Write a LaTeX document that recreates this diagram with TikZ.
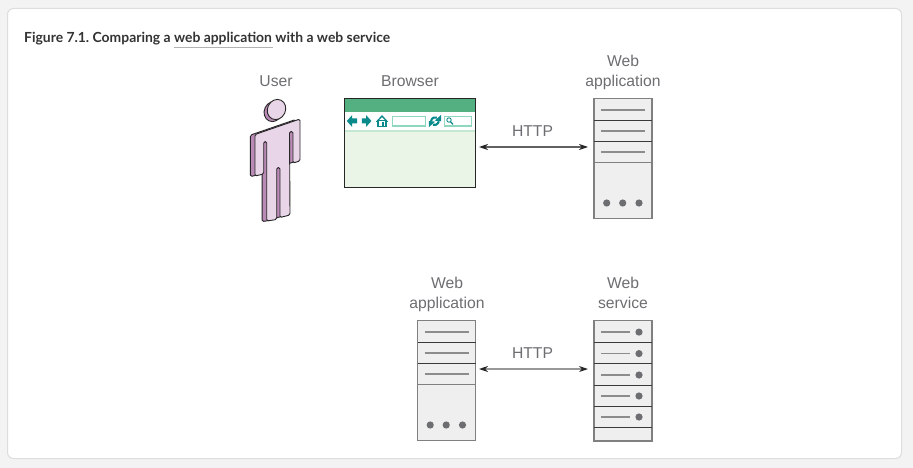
\documentclass[tikz,border=0pt]{standalone}
\usepackage{fontspec}
\setmainfont{Liberation Sans}
\newfontfamily\latofont{Lato}
\usetikzlibrary{arrows.meta}
\definecolor{pagebg}{HTML}{F3F3F3}
\definecolor{cardedge}{HTML}{DDDDDD}
\definecolor{labelgray}{HTML}{6D6E71}
\definecolor{srvfill}{HTML}{EFEFEF}
\definecolor{srvedge}{HTML}{808080}
\definecolor{srvdark}{HTML}{3A3A3A}
\definecolor{srvline}{HTML}{8C8C8C}
\definecolor{srvdot}{HTML}{6D6E71}
\definecolor{headgreen}{HTML}{54B080}
\definecolor{bodygreen}{HTML}{EAF4E7}
\definecolor{stripgreen}{HTML}{C5E8D3}
\definecolor{teal}{HTML}{0A8A8A}
\definecolor{fieldedge}{HTML}{8FD8BE}
\definecolor{personlight}{HTML}{E9D5E8}
\definecolor{persondark}{HTML}{B98AB5}
\tikzset{
  x=1pt,y=-1pt,
  lbl/.style={font=\fontsize{15.7}{20}\selectfont,text=labelgray,inner sep=0pt,align=center},
  srvbox/.style={draw=srvedge,fill=srvfill,line width=1.4pt,minimum width=58pt,inner sep=0pt,outer sep=0pt,anchor=north west},
  sep/.style={draw=srvdark,line width=1pt},
  sepgray/.style={draw=srvedge,line width=1.4pt},
  rackline/.style={draw=srvline,line width=1.5pt},
  rackdot/.style={fill=srvdot,draw=none},
  link/.style={draw=srvdark!80,line width=1.1pt,{Stealth[length=9pt,width=6pt,color=black!85]}-{Stealth[length=9pt,width=6pt,color=black!85]}},
  tealfill/.style={fill=teal,draw=none},
  fieldbox/.style={draw=fieldedge,fill=white,line width=1.2pt},
  personshape/.style={draw=black!85,line width=.9pt,rounded corners=1.5pt,line join=round}
}
% web application rack at top-left (#2,#3), node name #1
\newcommand{\appsrv}[3]{%
  \node[srvbox,minimum height=120pt] (#1) at (#2,#3) {};
  \begin{scope}[shift={(#2,#3)}]
    \draw[sep] (0,21.8) -- (58,21.8);
    \draw[sep] (0,43.2) -- (58,43.2);
    \draw[sepgray] (0,64.2) -- (58,64.2);
    \foreach \yy in {11.5,32.5,53.5} \draw[rackline] (7,\yy) -- (51,\yy);
    \foreach \xx in {12.7,28.7,45} \fill[rackdot] (\xx,104.5) circle (3.6pt);
  \end{scope}}
\begin{document}
\begin{tikzpicture}
\useasboundingbox (0,0) rectangle (913,468);
\fill[pagebg] (0,0) rectangle (913,468);
\draw[draw=cardedge,fill=white,line width=1pt,rounded corners=6pt] (7.5,8.5) rectangle (901.5,458.5);
% title
\node[anchor=base west,inner sep=0pt,font=\latofont\bfseries\fontsize{13.9}{16}\selectfont,text=black!80] (title) at (24,42.7) {\frenchspacing Figure 7.1. Comparing a web application with a web service};
\coordinate (ulA) at (174,47.5);
\coordinate (ulB) at (273,47.5);
\draw[draw=black!30,line width=1.2pt] (ulA) -- (ulB);
% labels
\node[lbl] (userlbl) at (276,81) {User};
\node[lbl] (browserlbl) at (410,81) {Browser};
\node[lbl] (app1lbl) at (623,72) {Web\\application};
\node[lbl] (http1) at (532.5,131) {HTTP};
\node[lbl] (app2lbl) at (447,294) {Web\\application};
\node[lbl] (svclbl) at (623,293.3) {Web\\service};
\node[lbl] (http2) at (532.5,353) {HTTP};
% person
\def\bodypath{(255,134.5) -- (300,119) -- (300,161) -- (293,163) -- (293,131.5) -- (289.5,131.5) -- (290,215) -- (280,217.5) -- (280,167.5) -- (276.7,167.5) -- (276.7,219.5) -- (266.7,221) -- (266.7,141.5) -- (263.7,141.5) -- (263.7,174) -- (255,176) -- cycle}
\begin{scope}[shift={(-4.6,0.6)}]
  \draw[personshape,fill=persondark] \bodypath;
\end{scope}
\draw[personshape,fill=personlight] \bodypath;
\draw[draw=black!85,line width=.9pt,fill=persondark,rotate around={-25:(273.3,111.5)}] (273.3,111.5) ellipse [x radius=9,y radius=10.3];
\draw[draw=black!85,line width=.9pt,fill=personlight,rotate around={-25:(276.5,109.5)}] (276.5,109.5) ellipse [x radius=9,y radius=10.3];
% browser
\node[draw=none,fill=bodygreen,minimum width=131pt,minimum height=89pt,inner sep=0pt,outer sep=0pt,anchor=north west] (browser) at (344.5,98.5) {};
\fill[headgreen] (344.5,98.5) rectangle (475.5,112);
\fill[white] (344.5,112) rectangle (475.5,130);
\fill[stripgreen] (344.5,130) rectangle (475.5,132);
\draw[draw=black!85,line width=1pt] (browser.north west) rectangle (browser.south east);
% toolbar icons
\fill[tealfill] (346.8,121) -- (352,115.2) -- (352,118.5) -- (357.2,118.5) -- (357.2,123.5) -- (352,123.5) -- (352,126.8) -- cycle;
\fill[tealfill] (371.4,121) -- (366.2,115.2) -- (366.2,118.5) -- (361.8,118.5) -- (361.8,123.5) -- (366.2,123.5) -- (366.2,126.8) -- cycle;
\fill[tealfill] (375.8,121.8) -- (382,115) -- (388.2,121.8) -- (386.6,121.8) -- (382,117.2) -- (377.4,121.8) -- cycle;
\draw[draw=teal,line width=1.1pt,fill=white] (378,120.5) rectangle (386,126.5);
\fill[tealfill] (381.5,122.5) rectangle (384,126.5);
\draw[fieldbox] (392.5,116.8) rectangle (425.5,126);
\draw[draw=teal,line width=2.1pt] (431,121) arc[start angle=170,end angle=70,radius=4.5pt];
\draw[draw=teal,line width=2.1pt] (438.8,121.3) arc[start angle=-10,end angle=-110,radius=4.5pt];
\fill[tealfill] (441,115) -- (441,121.3) -- (434.8,120.6) -- cycle;
\fill[tealfill] (428.8,127.2) -- (428.8,121) -- (435,121.6) -- cycle;
\draw[fieldbox] (444.5,116.8) rectangle (471.5,126);
\draw[draw=teal,line width=.9pt] (449,120) circle (2.2pt);
\draw[draw=teal,line width=1.3pt] (450.5,121.8) -- (453,124.3);
% racks
\appsrv{app1}{594}{98.5}
\appsrv{app2}{417.5}{320.5}
\node[srvbox,minimum height=120.5pt] (svc) at (594,320.5) {};
\begin{scope}[shift={(594,320.5)}]
  \foreach \yy in {21.8,43.3,64.5,85.5} \draw[sep] (0,\yy) -- (58,\yy);
  \draw[sep] (0,106.8) -- (58,106.8);
  \foreach \yy in {11.6,33.1,54.5,75.5,96.5} {
    \draw[rackline] (7,\yy) -- (36,\yy);
    \fill[rackdot] (45,\yy) circle (3.6pt);
  }
\end{scope}
% connectors
\draw[link] ([xshift=3.5pt,yshift=-4pt]browser.east) -- ([xshift=-6pt,yshift=11.5pt]app1.west);
\draw[link] ([xshift=3.5pt,yshift=11.5pt]app2.east) -- ([xshift=-6pt,yshift=11.7pt]svc.west);
\end{tikzpicture}
\end{document}
